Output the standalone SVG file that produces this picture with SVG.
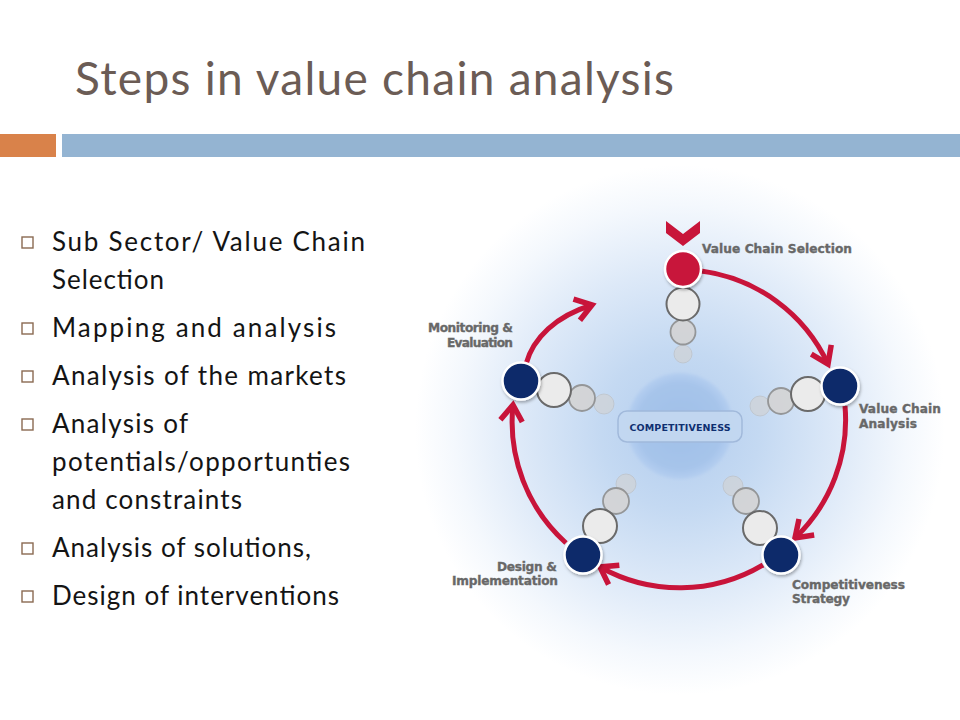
<svg xmlns="http://www.w3.org/2000/svg" width="960" height="720" viewBox="0 0 960 720">
<style>
.title{font-family:Lato,"Open Sans","DejaVu Sans",sans-serif;font-size:46px;fill:#6b5c55}
.bul{font-family:Lato,"Open Sans","DejaVu Sans",sans-serif;font-size:26px;fill:#141414}
.box{fill:none;stroke:#8a6a52;stroke-width:1.4}
.lbl{font-family:"DejaVu Sans","Liberation Sans",sans-serif;font-weight:bold;font-size:12.2px;fill:#686868;stroke:#686868;stroke-width:0.35}
.arc{fill:none;stroke:#c8143a;stroke-width:5;stroke-linecap:butt}
.c2{fill:#ebebeb;stroke:#6a6a6a;stroke-width:2}
.c3{fill:#d4d4d4;stroke:#8f8f8f;stroke-width:1.8;opacity:.9}
.c4{fill:#d2d2d2;stroke:#bdbdbd;stroke-width:1;opacity:.65}
.red{fill:#c8153a;stroke:#fff;stroke-width:2.5}
.navy{fill:#0c2a6a;stroke:#fff;stroke-width:2.5}
</style>
<defs>
<radialGradient id="glow" cx="680" cy="430" r="265" gradientUnits="userSpaceOnUse">
<stop offset="0" stop-color="#b3cdee"/>
<stop offset="0.3" stop-color="#c4d9f2"/>
<stop offset="0.6" stop-color="#dde9f8"/>
<stop offset="0.85" stop-color="#f4f8fd"/>
<stop offset="1" stop-color="#ffffff"/>
</radialGradient>
<radialGradient id="core" cx="0.5" cy="0.5" r="0.5">
<stop offset="0" stop-color="#a0bfe8"/>
<stop offset="0.8" stop-color="#a6c4ea"/>
<stop offset="1" stop-color="#b4cef0"/>
</radialGradient>
<filter id="blur" x="-20%" y="-20%" width="140%" height="140%"><feGaussianBlur stdDeviation="1.5"/></filter>
<filter id="sh" x="-30%" y="-30%" width="160%" height="160%"><feDropShadow dx="1" dy="2" stdDeviation="1.5" flood-color="#000" flood-opacity="0.3"/></filter>
<marker id="ah" viewBox="-22 -16 28 32" refX="0" refY="0" markerWidth="28" markerHeight="32" markerUnits="userSpaceOnUse" orient="auto">
<path d="M-16,-11 L0,0 L-16,11" fill="none" stroke="#c8143a" stroke-width="5.5" stroke-linejoin="miter"/>
</marker>
</defs>
<rect width="960" height="720" fill="#fff"/>
<text class="title" x="75" y="95" textLength="599">Steps in value chain analysis</text>
<rect x="0" y="134" width="56" height="23" fill="#d9824a"/>
<rect x="62" y="134" width="898" height="23" fill="#94b4d2"/>
<g id="bullets">
<rect class="box" x="22" y="237" width="11" height="11"/>
<text class="bul" x="52" y="251" textLength="313">Sub Sector/ Value Chain</text>
<text class="bul" x="52" y="289" textLength="112">Selection</text>
<rect class="box" x="22" y="323" width="11" height="11"/>
<text class="bul" x="52" y="337" textLength="284">Mapping and analysis</text>
<rect class="box" x="22" y="371" width="11" height="11"/>
<text class="bul" x="52" y="385" textLength="294">Analysis of the markets</text>
<rect class="box" x="22" y="419" width="11" height="11"/>
<text class="bul" x="52" y="433" textLength="136">Analysis of</text>
<text class="bul" x="52" y="471" textLength="298">potentials/opportunties</text>
<text class="bul" x="52" y="509" textLength="190">and constraints</text>
<rect class="box" x="22" y="543" width="11" height="11"/>
<text class="bul" x="52" y="557" textLength="259">Analysis of solutions,</text>
<rect class="box" x="22" y="591" width="11" height="11"/>
<text class="bul" x="52" y="605" textLength="287">Design of interventions</text>
</g>
<circle cx="680" cy="430" r="265" fill="url(#glow)"/>
<g id="center">
<circle cx="680" cy="426" r="53" fill="url(#core)" filter="url(#blur)"/>
<rect x="618" y="411" width="124" height="31" rx="9" fill="#c3d8f1" stroke="#a0b8da" stroke-width="1.5" opacity="0.95"/>
<text x="680" y="430.5" text-anchor="middle" font-family="DejaVu Sans,Liberation Sans,sans-serif" font-weight="bold" font-size="9.5" fill="#0f2f70" textLength="101">COMPETITIVENESS</text>
</g>
<g id="connectors">
<path class="arc" d="M701,271 A163,163 0 0 1 828,364" marker-end="url(#ah)"/>
<path class="arc" d="M845,406 A163,163 0 0 1 795,538" marker-end="url(#ah)"/>
<path class="arc" d="M763,565 A163,163 0 0 1 600,567" marker-end="url(#ah)"/>
<path class="arc" d="M566,543 A163,163 0 0 1 513,405" marker-end="url(#ah)"/>
<path class="arc" d="M526,364 C533,338 556,316 592,305" marker-end="url(#ah)"/>
</g>
<g id="node-selection">
<polygon points="666,221 683,234 700,221 700,233 683,246 666,233" fill="#c8153a"/>
<circle class="c4" cx="683" cy="354" r="9"/>
<circle class="c3" cx="683" cy="332" r="12.5"/>
<circle class="c2" cx="683" cy="304" r="16.5"/>
<circle class="red" cx="683" cy="269" r="18" filter="url(#sh)"/>
<text class="lbl" x="702" y="253" textLength="150">Value Chain Selection</text>
</g>
<g id="node-analysis">
<circle class="c4" cx="760" cy="406" r="10"/>
<circle class="c3" cx="781" cy="401" r="13"/>
<circle class="c2" cx="808" cy="394" r="17"/>
<circle class="navy" cx="840" cy="386" r="18.5" filter="url(#sh)"/>
<text class="lbl" x="859" y="413" textLength="82">Value Chain</text>
<text class="lbl" x="859" y="428" textLength="58">Analysis</text>
</g>
<g id="node-strategy">
<circle class="c4" cx="733" cy="486" r="10"/>
<circle class="c3" cx="746" cy="501" r="13"/>
<circle class="c2" cx="760" cy="528" r="17"/>
<circle class="navy" cx="781" cy="555" r="18.5" filter="url(#sh)"/>
<text class="lbl" x="792" y="589" textLength="113">Competitiveness</text>
<text class="lbl" x="792" y="603" textLength="58">Strategy</text>
</g>
<g id="node-design">
<circle class="c4" cx="626" cy="484" r="10"/>
<circle class="c3" cx="616" cy="501" r="13"/>
<circle class="c2" cx="600" cy="526" r="17"/>
<circle class="navy" cx="583" cy="555" r="18.5" filter="url(#sh)"/>
<text class="lbl" x="557" y="571" text-anchor="end" textLength="60">Design &amp;</text>
<text class="lbl" x="558" y="585" text-anchor="end" textLength="106">Implementation</text>
</g>
<g id="node-monitoring">
<circle class="c4" cx="604" cy="404" r="10"/>
<circle class="c3" cx="582" cy="398" r="13"/>
<circle class="c2" cx="554" cy="390" r="17"/>
<circle class="navy" cx="521" cy="381" r="18.5" filter="url(#sh)"/>
<text class="lbl" x="513" y="332" text-anchor="end" textLength="85">Monitoring &amp;</text>
<text class="lbl" x="513" y="347" text-anchor="end" textLength="66">Evaluation</text>
</g>
</svg>
